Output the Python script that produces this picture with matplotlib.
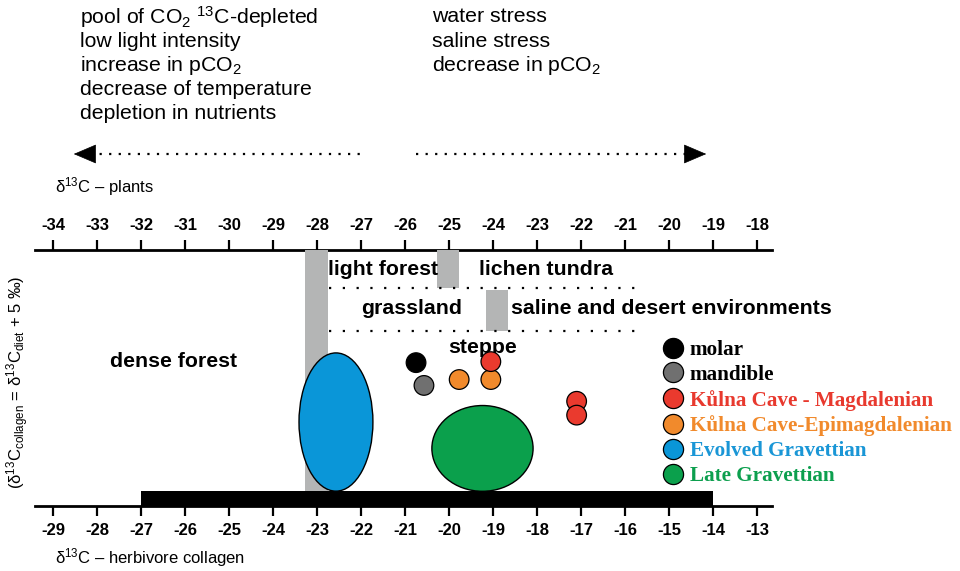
import matplotlib
matplotlib.use("Agg")
import matplotlib.pyplot as plt
from matplotlib.patches import Ellipse, FancyArrowPatch
from matplotlib.lines import Line2D

plt.rcParams["font.family"] = ["Liberation Sans", "DejaVu Sans"]
plt.rcParams["mathtext.fontset"] = "custom"
plt.rcParams["mathtext.rm"] = "Liberation Sans"
plt.rcParams["mathtext.it"] = "Liberation Sans:italic"
plt.rcParams["mathtext.bf"] = "Liberation Sans:bold"

# ---- data (x: d13C herbivore collagen, y: arbitrary vertical position 0-100) ----
collagen_ticks = list(range(-29, -12))
plant_ticks = list(range(-34, -17))
diet_offset = 5  # d13C collagen = d13C diet + 5 permil

# black range bar along the bottom axis
range_bar = (-27, -14)
range_bar_height = 5.8

# grey boundary bars: (left, right, bottom, top)
boundary_left = [-23.27, -20.27, -19.15]
boundary_right = [-22.76, -19.77, -18.65]
boundary_bottom = [5.8, 85.2, 68.5]
boundary_top = [100, 100, 84.4]

# dotted vegetation-zone separators
zone_line_y = [85.2, 68.5]
zone_line_x = (-22.73, -15.73)

# vegetation zone labels
zone_names = ["light forest", "lichen tundra", "grassland",
              "saline and desert environments", "steppe", "dense forest"]
zone_x = [-21.5, -17.8, -20.86, -18.6, -19.23, -26.27]
zone_y = [92.5, 92.5, 77.0, 77.0, 61.8, 56.4]
zone_ha = ["center", "center", "center", "left", "center", "center"]

# group ellipses: centre x, centre y, width, height
group_names = ["Evolved Gravettian", "Late Gravettian"]
group_cx = [-22.57, -19.24]
group_cy = [32.8, 22.5]
group_w = [1.68, 2.3]
group_h = [54.0, 33.5]
group_colors = ["#0A96D8", "#0BA04C"]

# individual samples
sample_x = [-20.75, -20.57, -19.77, -19.05, -19.05, -17.1, -17.1]
sample_y = [56.0, 47.1, 49.4, 49.4, 56.4, 40.9, 35.5]
sample_kind = ["molar", "mandible", "epi", "epi", "mag", "mag", "mag"]

legend_labels = ["molar", "mandible", "Kůlna Cave - Magdalenian",
                 "Kůlna Cave-Epimagdalenian", "Evolved Gravettian",
                 "Late Gravettian"]
legend_colors = ["#000000", "#707070", "#EA3A2E", "#F18A2C", "#0A96D8", "#0BA04C"]
legend_text_colors = ["#000000", "#000000", "#E8392E", "#F18A2C", "#1A96D6", "#0C9F4E"]
kind_color = {"molar": legend_colors[0], "mandible": legend_colors[1],
              "mag": legend_colors[2], "epi": legend_colors[3]}

left_causes = ["pool of CO$_2$ $^{13}$C-depleted", "low light intensity",
               "increase in pCO$_2$", "decrease of temperature",
               "depletion in nutrients"]
right_causes = ["water stress", "saline stress", "decrease in pCO$_2$"]

# ---- figure ----
W, H = 960, 571
fig = plt.figure(figsize=(W / 100, H / 100), dpi=100)
ax = fig.add_axes([35 / W, 1 - 506 / H, (772 - 35) / W, (506 - 250) / H])
ax.set_xlim(-29.41, -12.66)
ax.set_ylim(0, 100)

for s in ["left", "right", "top"]:
    ax.spines[s].set_visible(False)
ax.spines["bottom"].set_linewidth(2.0)
ax.set_yticks([])
ax.set_xticks(collagen_ticks)
ax.set_xticklabels([str(t) for t in collagen_ticks], fontsize=12, fontweight="bold")
ax.tick_params(axis="x", direction="out", length=7, width=1.6, pad=5)

sec = ax.secondary_xaxis("top", functions=(lambda x: x - diet_offset,
                                           lambda x: x + diet_offset))
sec.set_xticks(plant_ticks)
sec.set_xticklabels([str(t) for t in plant_ticks], fontsize=12, fontweight="bold")
sec.tick_params(axis="x", direction="out", length=7, width=1.6, pad=5)
sec.spines["top"].set_linewidth(2.0)

# grey boundaries
for l, r, b, t in zip(boundary_left, boundary_right, boundary_bottom, boundary_top):
    ax.bar(l, t - b, width=r - l, bottom=b, align="edge", color="#B4B5B5",
           edgecolor="none", zorder=1)

# black range bar
ax.barh(0, range_bar[1] - range_bar[0], left=range_bar[0], height=range_bar_height,
        align="edge", color="black", zorder=3)

# dotted separators
for yv in zone_line_y:
    ax.plot(zone_line_x, [yv, yv], color="black", lw=1.6,
            linestyle=(0, (1, 5.2)), zorder=2)

for name, x, y, ha in zip(zone_names, zone_x, zone_y, zone_ha):
    ax.text(x, y, name, ha=ha, va="center", fontsize=15.3, fontweight="bold", zorder=4)

# ellipses
for cx, cy, w, h, c in zip(group_cx, group_cy, group_w, group_h, group_colors):
    ax.add_patch(Ellipse((cx, cy), w, h, facecolor=c, edgecolor="black",
                         lw=1.0, zorder=5))

# samples
ax.scatter(sample_x, sample_y, s=200, c=[kind_color[k] for k in sample_kind],
           edgecolors="black", linewidths=0.9, zorder=6)

# legend
handles = [Line2D([], [], marker="o", linestyle="none", markersize=14.5,
                  markerfacecolor=c, markeredgecolor="black", markeredgewidth=0.9)
           for c in legend_colors]
leg = ax.legend(handles, legend_labels, loc="upper left",
                bbox_to_anchor=(662 / W, 1 - 340 / H), bbox_transform=fig.transFigure,
                frameon=False, handlelength=1.0, handletextpad=0.32,
                labelspacing=0.23, borderpad=0, borderaxespad=0,
                prop={"family": "Liberation Serif", "weight": "bold", "size": 15.2})
for txt, c in zip(leg.get_texts(), legend_text_colors):
    txt.set_color(c)

# axis titles
fig.text(55 / W, 1 - 187 / H, "δ$^{13}$C – plants", fontsize=12, va="center")
fig.text(55 / W, 1 - 558 / H, "δ$^{13}$C – herbivore collagen", fontsize=12, va="center")
fig.text(18 / W, 1 - 382 / H,
         "(δ$^{13}$C$_{\\rm collagen}$ = δ$^{13}$C$_{\\rm diet}$ + 5 ‰)",
         rotation=90, fontsize=12, ha="center", va="center")

# causes of depletion / enrichment
for i, t in enumerate(left_causes):
    fig.text(80 / W, 1 - (17 + 24.2 * i) / H, t, fontsize=15.3, va="center")
for i, t in enumerate(right_causes):
    fig.text(432 / W, 1 - (17 + 24.2 * i) / H, t, fontsize=15.3, va="center")

# dotted arrows
ay = 1 - 154 / H
fig.add_artist(Line2D([90 / W, 362 / W], [ay, ay], color="black", lw=1.6,
                      linestyle=(0, (1, 3.3))))
fig.add_artist(Line2D([416 / W, 690 / W], [ay, ay], color="black", lw=1.6,
                      linestyle=(0, (1, 3.3))))
fig.add_artist(FancyArrowPatch((92 / W, ay), (71 / W, ay), transform=fig.transFigure,
                               arrowstyle="-|>,head_length=0.75,head_width=0.32",
                               mutation_scale=20, color="black", lw=0.5))
fig.add_artist(FancyArrowPatch((688 / W, ay), (709 / W, ay), transform=fig.transFigure,
                               arrowstyle="-|>,head_length=0.75,head_width=0.32",
                               mutation_scale=20, color="black", lw=0.5))

fig.savefig("out.png", dpi=100)
